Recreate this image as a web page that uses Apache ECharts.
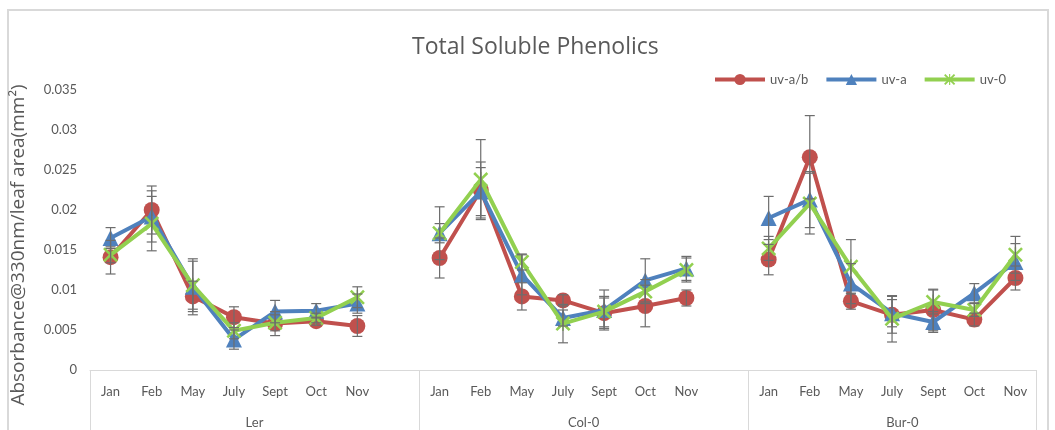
<!DOCTYPE html>
<html>
<head>
<meta charset="utf-8">
<script src="https://cdn.jsdelivr.net/npm/echarts@6/dist/echarts.min.js"></script>
<style>
html,body{margin:0;padding:0;background:#fff;}
#wrap{position:relative;width:1055px;height:430px;overflow:hidden;}
#chart{position:absolute;left:0;top:0;width:1055px;height:430px;}
#frame{position:absolute;left:7px;top:9px;width:1038px;height:440px;border:2px solid #d9d9d9;pointer-events:none;}
</style>
</head>
<body>
<div id="wrap"><div id="frame"></div><div id="chart"></div></div>
<script>
const months = ['Jan','Feb','May','July','Sept','Oct','Nov'];
const groups = ['Ler','Col-0','Bur-0'];
const yTicks = [0, 0.005, 0.01, 0.015, 0.02, 0.025, 0.03, 0.035];

// values per series: Ler (7), Col-0 (7), Bur-0 (7)
const uvAB  = [0.0141,0.0200,0.0092,0.0066,0.0058,0.0061,0.0055,
               0.0140,0.0225,0.0092,0.0087,0.0071,0.0080,0.0090,
               0.0138,0.0266,0.0086,0.0069,0.0075,0.0063,0.0115];
const uvA   = [0.0165,0.0192,0.0104,0.0038,0.0073,0.0074,0.0083,
               0.0171,0.0223,0.0119,0.0065,0.0075,0.0112,0.0127,
               0.0190,0.0213,0.0108,0.0071,0.0060,0.0096,0.0135];
const uv0   = [0.0144,0.0183,0.0106,0.0049,0.0059,0.0065,0.0091,
               0.0171,0.0238,0.0135,0.0058,0.0073,0.0098,0.0125,
               0.0152,0.0208,0.0129,0.0064,0.0085,0.0075,0.0144];
// error (±)
const uvABErr = [0.0021,0.0030,0.0019,0.0013,0.0015,0.0005,0.0013,
                 0.0025,0.0035,0.0017,0.0007,0.0019,0.0026,0.0010,
                 0.0019,0.0052,0.0010,0.0023,0.0026,0.0008,0.0015];
const uvAErr  = [0.0013,0.0032,0.0035,0.0012,0.0014,0.0009,0.0012,
                 0.0033,0.0030,0.0025,0.0010,0.0025,0.0027,0.0015,
                 0.0027,0.0035,0.0025,0.0017,0.0013,0.0012,0.0023];
const uv0Err  = [0.0010,0.0034,0.0030,0.0010,0.0010,0.0006,0.0013,
                 0.0012,0.0050,0.0010,0.0024,0.0019,0.0015,0.0015,
                 0.0015,0.0038,0.0034,0.0029,0.0015,0.0008,0.0023];

// build 23 category slots: 7 months, blank, 7 months, blank, 7 months
const categories = [];
const slotOf = [];
groups.forEach((g, gi) => {
  months.forEach((m) => { slotOf.push(categories.length); categories.push(m); });
  if (gi < groups.length - 1) categories.push('');
});
const groupStart = [0, 8, 16];
const groupLabelPos = [4, 12, 19.75];

function toSlots(arr) {
  const out = categories.map(() => null);
  arr.forEach((v, i) => { out[slotOf[i]] = v; });
  return out;
}
function errData(arr, err) {
  return arr.map((v, i) => [slotOf[i], v - err[i], v + err[i]]);
}

const FONT = 'Lato, "Open Sans", sans-serif';
const FONT2 = '"Open Sans", Lato, sans-serif';
const TXT = '#595959';
const cRed = '#c0504d', cBlue = '#4f81bd', cGreen = '#92d050';
const starPath = 'path://M0,1.2L1.2,0L5,3.8L8.8,0L10,1.2L6.2,5L10,8.8L8.8,10L5,6.2L1.2,10L0,8.8L3.8,5Z M4.5,0L5.5,0L5.5,10L4.5,10Z';

function errSeries(data) {
  return {
    type: 'custom',
    xAxisIndex: 0, yAxisIndex: 0,
    z: 5,
    silent: true,
    data: data,
    encode: { x: 0, y: [1, 2] },
    renderItem: function (params, api) {
      const x = api.value(0);
      const lo = api.coord([x, api.value(1)]);
      const hi = api.coord([x, api.value(2)]);
      const hw = 5;
      const style = { stroke: '#6d6d6d', lineWidth: 1.2 };
      return {
        type: 'group',
        children: [
          { type: 'line', shape: { x1: lo[0], y1: lo[1], x2: hi[0], y2: hi[1] }, style: style },
          { type: 'line', shape: { x1: lo[0] - hw, y1: lo[1], x2: lo[0] + hw, y2: lo[1] }, style: style },
          { type: 'line', shape: { x1: hi[0] - hw, y1: hi[1], x2: hi[0] + hw, y2: hi[1] }, style: style }
        ]
      };
    }
  };
}

const chart = echarts.init(document.getElementById('chart'), null, { renderer: 'canvas' });
chart.setOption({
  animation: false,
  textStyle: { fontFamily: FONT },
  title: {
    text: 'Total Soluble Phenolics',
    left: 407, top: 31,
    textStyle: { fontFamily: FONT2, fontSize: 23, fontWeight: 'normal', color: TXT }
  },
  legend: {
    left: 708, top: 68,
    itemWidth: 50, itemHeight: 14, itemGap: 16,
    lineStyle: { width: 4 },
    textStyle: { fontFamily: FONT, fontSize: 13, color: TXT },
    data: ['uv-a/b', 'uv-a', 'uv-0']
  },
  grid: { left: 90, right: 19, top: 90, bottom: 60, containLabel: false },
  xAxis: [
    {
      type: 'category',
      data: categories,
      boundaryGap: true,
      axisLine: { show: true, lineStyle: { color: '#d9d9d9', width: 1 } },
      axisTick: {
        show: true, length: 62,
        lineStyle: { color: '#d9d9d9', width: 1 },
        interval: function (i) { return groupStart.indexOf(i) >= 0; }
      },
      axisLabel: { interval: 0, margin: 15, fontFamily: FONT, fontSize: 13, color: TXT },
      splitLine: { show: false }
    },
    {
      type: 'value',
      position: 'bottom',
      min: 0, max: categories.length, interval: 0.25,
      axisLine: { show: false }, axisTick: { show: false }, splitLine: { show: false },
      axisLabel: {
        margin: 46, fontFamily: FONT, fontSize: 13, color: TXT,
        showMinLabel: true, showMaxLabel: true,
        formatter: function (v) {
          const k = groupLabelPos.findIndex(p => Math.abs(p - v) < 1e-6);
          return k >= 0 ? groups[k] : '';
        }
      }
    }
  ],
  yAxis: {
    type: 'value',
    min: 0, max: 0.035, interval: 0.005,
    name: 'Absorbance@330nm/leaf area(mm²)',
    nameLocation: 'middle', nameGap: 62,
    nameTextStyle: { fontFamily: FONT2, fontSize: 19, color: TXT, padding: [0, 30, 0, 0] },
    axisLine: { show: false }, axisTick: { show: false },
    splitLine: { show: false },
    axisLabel: {
      margin: 13, fontFamily: FONT, fontSize: 13, color: TXT,
      formatter: function (v) {
        const t = yTicks.find(x => Math.abs(x - v) < 1e-9);
        return t === undefined ? '' : String(t);
      }
    }
  },
  series: [
    {
      name: 'uv-a/b', type: 'line', data: toSlots(uvAB), connectNulls: false,
      symbol: 'circle', symbolSize: 16,
      lineStyle: { color: cRed, width: 4 }, itemStyle: { color: cRed }, z: 2
    },
    {
      name: 'uv-a', type: 'line', data: toSlots(uvA), connectNulls: false,
      symbol: 'triangle', symbolSize: 16,
      lineStyle: { color: cBlue, width: 4 }, itemStyle: { color: cBlue }, z: 3
    },
    {
      name: 'uv-0', type: 'line', data: toSlots(uv0), connectNulls: false,
      symbol: starPath, symbolSize: 15,
      lineStyle: { color: cGreen, width: 4 }, itemStyle: { color: cGreen }, z: 4
    },
    errSeries(errData(uvAB, uvABErr)),
    errSeries(errData(uvA, uvAErr)),
    errSeries(errData(uv0, uv0Err))
  ]
});
</script>
</body>
</html>
